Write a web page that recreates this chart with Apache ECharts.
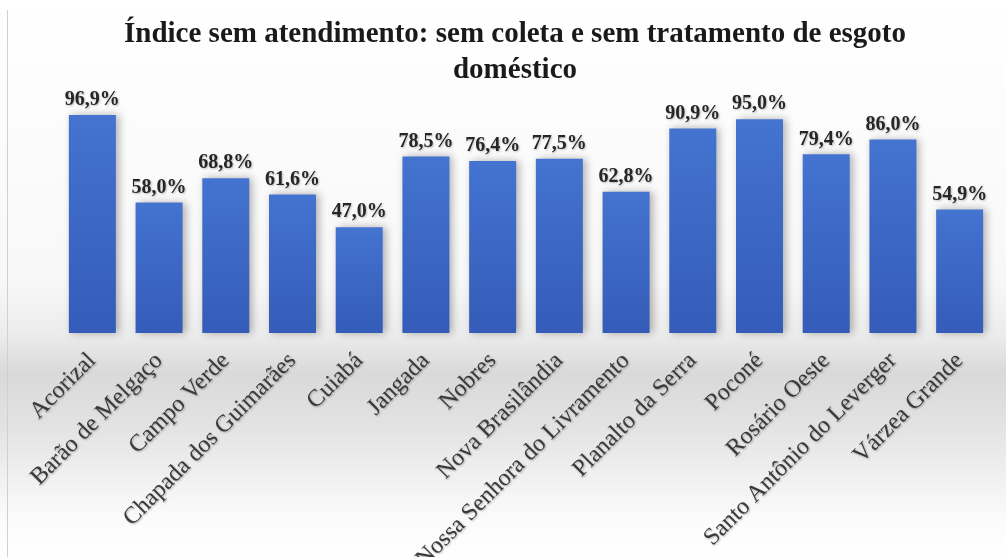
<!DOCTYPE html>
<html>
<head>
<meta charset="utf-8">
<script src="https://cdn.jsdelivr.net/npm/echarts@6/dist/echarts.min.js"></script>
<style>
html,body{margin:0;padding:0;background:#fff;}
#c{width:1006px;height:557px;}
</style>
</head>
<body>
<div id="c"></div>
<script>
const titleText = 'Índice sem atendimento: sem coleta e sem tratamento de esgoto\ndoméstico';
const categories = ['Acorizal','Barão de Melgaço','Campo Verde','Chapada dos Guimarães','Cuiabá','Jangada','Nobres','Nova Brasilândia','Nossa Senhora do Livramento','Planalto da Serra','Poconé','Rosário Oeste','Santo Antônio do Leverger','Várzea Grande'];
const values = [96.9, 58.0, 68.8, 61.6, 47.0, 78.5, 76.4, 77.5, 62.8, 90.9, 95.0, 79.4, 86.0, 54.9];

const chart = echarts.init(document.getElementById('c'), null, {renderer:'canvas'});
const serif = '"Liberation Serif","DejaVu Serif",serif';
chart.setOption({
  backgroundColor: new echarts.graphic.LinearGradient(0,0,0,1,[
    {offset:0, color:'#ffffff'},
    {offset:0.5, color:'#f8f8f8'},
    {offset:0.6, color:'#ececec'},
    {offset:0.67, color:'#d9d9d9'},
    {offset:0.76, color:'#e2e2e2'},
    {offset:0.93, color:'#fbfbfb'},
    {offset:1, color:'#ffffff'}
  ]),
  animation:false,
  graphic:[
    {type:'line', shape:{x1:7.5,y1:10,x2:7.5,y2:557}, style:{stroke:'#d0d0d0', lineWidth:1}}
  ],
  title:{
    text:titleText,
    left:510, top:12, textAlign:'center',
    textStyle:{fontFamily:serif, fontWeight:'bold', fontSize:29, color:'#1a1a1a', lineHeight:36}
  },
  grid:{left:59, right:13, top:108, height:225, containLabel:false, outerBoundsMode:'none'},
  xAxis:{
    type:'category', data:categories,
    axisLine:{show:false}, axisTick:{show:false},
    axisLabel:{interval:0, rotate:45, fontFamily:serif, fontSize:24, color:'#3a3a3a', margin:24,
      textShadowColor:'rgba(0,0,0,0.3)', textShadowBlur:2, textShadowOffsetX:1, textShadowOffsetY:1}
  },
  yAxis:{type:'value', min:0, max:100, show:false, splitLine:{show:false}},
  series:[{
    type:'bar', data:values, barWidth:47,
    itemStyle:{
      color:new echarts.graphic.LinearGradient(0,0,0,1,[
        {offset:0,color:'#4473d0'},{offset:1,color:'#345cb8'}]),
      shadowColor:'rgba(0,0,0,0.3)', shadowBlur:8, shadowOffsetX:3, shadowOffsetY:0
    },
    label:{show:true, position:'top', distance:5,
      formatter:p=>p.value.toFixed(1).replace('.',',')+'%',
      fontFamily:serif, fontWeight:'bold', fontSize:20, color:'#262626',
      textShadowColor:'rgba(0,0,0,0.25)', textShadowBlur:2, textShadowOffsetX:1, textShadowOffsetY:1}
  }]
});
</script>
</body>
</html>
